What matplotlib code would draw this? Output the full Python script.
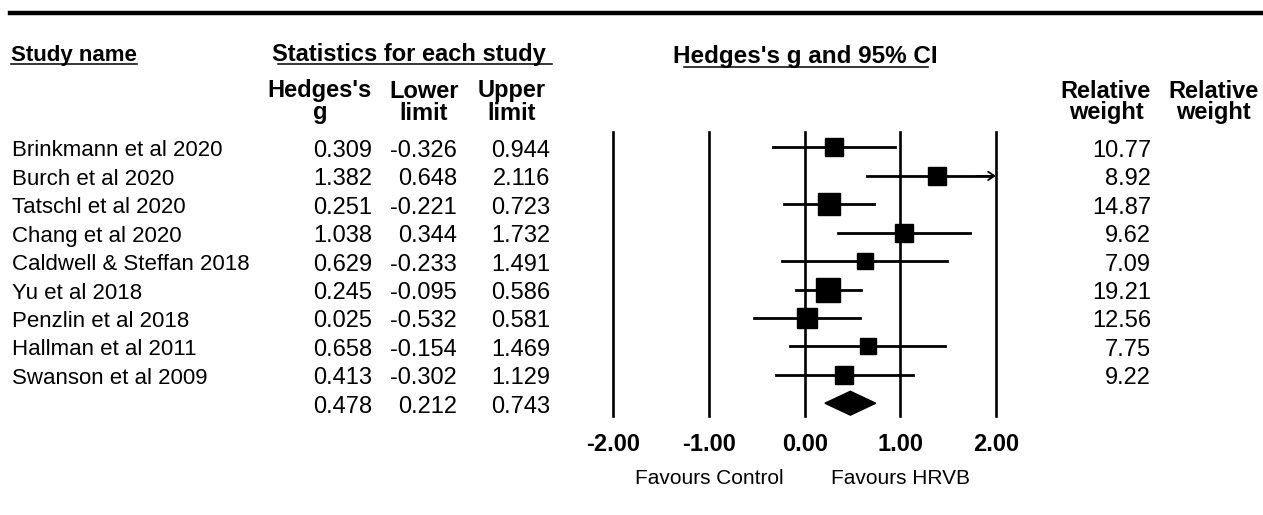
import numpy as np
import matplotlib
matplotlib.use("Agg")
import matplotlib.pyplot as plt
import matplotlib.transforms as mtransforms
from matplotlib.lines import Line2D
from matplotlib.patches import Polygon

studies = ['Brinkmann et al 2020', 'Burch et al 2020', 'Tatschl et al 2020',
           'Chang et al 2020', 'Caldwell & Steffan 2018', 'Yu et al 2018',
           'Penzlin et al 2018', 'Hallman et al 2011', 'Swanson et al 2009']
hedges_g = [0.309, 1.382, 0.251, 1.038, 0.629, 0.245, 0.025, 0.658, 0.413]
lower = [-0.326, 0.648, -0.221, 0.344, -0.233, -0.095, -0.532, -0.154, -0.302]
upper = [0.944, 2.116, 0.723, 1.732, 1.491, 0.586, 0.581, 1.469, 1.129]
weights = ['10.77', '8.92', '14.87', '9.62', '7.09', '19.21', '12.56', '7.75', '9.22']
summary = [0.478, 0.212, 0.743]
ticks = [-2, -1, 0, 1, 2]
tick_labels = ['-2.00', '-1.00', '0.00', '1.00', '2.00']

plt.rcParams['font.family'] = ['Liberation Sans', 'DejaVu Sans']
plt.rcParams['axes.unicode_minus'] = False

W, H = 1263, 515
fig = plt.figure(figsize=(W / 100, H / 100), dpi=100)

# forest axes: x -2..2 -> px 613..996, rows 0..9 -> px 147.5..403.3
ax = fig.add_axes([613.3 / W, 1 - 416 / H, (996 - 613.3) / W, (416 - 132) / H])
ax.set_xlim(-2, 2)
ax.set_ylim(9.45, -0.545)
for s in ax.spines.values():
    s.set_visible(False)
ax.set_yticks([])
ax.set_xticks(ticks)
ax.set_xticklabels(tick_labels, fontsize=17, fontweight='bold')
ax.tick_params(axis='x', length=0, pad=12)

for t in ticks:
    ax.axvline(t, color='black', lw=1.9, clip_on=False)

lim = ticks[-1]
for i in range(len(studies)):
    hi = min(upper[i], lim)
    if upper[i] > lim:
        ax.plot([lower[i], hi - 0.05], [i, i], color='black', lw=2, clip_on=False)
        ax.annotate('', xy=(hi, i), xytext=(hi - 0.2, i),
                    arrowprops=dict(arrowstyle='->,head_length=0.45,head_width=0.3',
                                    lw=1.3, color='black', shrinkA=0, shrinkB=0),
                    annotation_clip=False)
    else:
        ax.plot([lower[i], hi], [i, i], color='black', lw=2, clip_on=False)
    side = 5.7 * np.sqrt(float(weights[i])) * 0.72
    ax.plot(hedges_g[i], i, marker='s', ms=side, color='black', mec='black',
            clip_on=False, zorder=3)

ns = len(studies)
diamond = Polygon([[summary[1], ns], [summary[0], ns - 0.42],
                   [summary[2], ns], [summary[0], ns + 0.42]],
                  closed=True, color='black', clip_on=False, zorder=3)
ax.add_patch(diamond)

# favours labels under -1 and +1
bt = mtransforms.blended_transform_factory(ax.transData, fig.transFigure)
ax.text(-1, 1 - 479 / H, 'Favours Control', transform=bt, ha='center', va='center', fontsize=15)
ax.text(1, 1 - 479 / H, 'Favours HRVB', transform=bt, ha='center', va='center', fontsize=15)

# table text, rows tied to axes rows (nudged a few px down)
rt = mtransforms.blended_transform_factory(fig.transFigure, ax.transData)
rt = mtransforms.offset_copy(rt, fig=fig, y=-3.5, units='dots')
for i in range(ns):
    fig.text(12 / W, i, studies[i], transform=rt, ha='left', va='center', fontsize=16)
    fig.text(1151 / W, i, weights[i], transform=rt, ha='right', va='center', fontsize=17)
g_all = hedges_g + [summary[0]]
lo_all = lower + [summary[1]]
up_all = upper + [summary[2]]
for i in range(ns + 1):
    fig.text(372 / W, i, f'{g_all[i]:.3f}', transform=rt, ha='right', va='center', fontsize=17)
    fig.text(457 / W, i, f'{lo_all[i]:.3f}', transform=rt, ha='right', va='center', fontsize=17)
    fig.text(550 / W, i, f'{up_all[i]:.3f}', transform=rt, ha='right', va='center', fontsize=17)


def ftext(x, y, s, **kw):
    fig.text(x / W, 1 - y / H, s, va='center', **kw)


def fline(x0, x1, y, lw):
    fig.add_artist(Line2D([x0 / W, x1 / W], [1 - y / H, 1 - y / H],
                          transform=fig.transFigure, color='black', lw=lw))


fline(10, W, 12.5, 3.2)

ftext(11, 55, 'Study name', ha='left', fontsize=16, fontweight='bold')
fline(11, 137, 64, 1.1)
ftext(409, 55, 'Statistics for each study', ha='center', fontsize=17, fontweight='bold')
fline(278, 552, 64, 1.1)
ftext(805, 57, "Hedges's g and 95% CI", ha='center', fontsize=17.5, fontweight='bold')
fline(684, 928, 67, 1.1)

head1 = ["Hedges's", 'Lower', 'Upper', 'Relative', 'Relative']
head2 = ['g', 'limit', 'limit', 'weight', 'weight']
head_x = [320, 424, 512, 1106, 1213]
for hx, a, b in zip(head_x, head1, head2):
    ftext(hx, 91, a, ha='center', fontsize=17, fontweight='bold')
    ftext(hx, 113, b, ha='center', fontsize=17, fontweight='bold')

fig.savefig('out.png', dpi=100)
